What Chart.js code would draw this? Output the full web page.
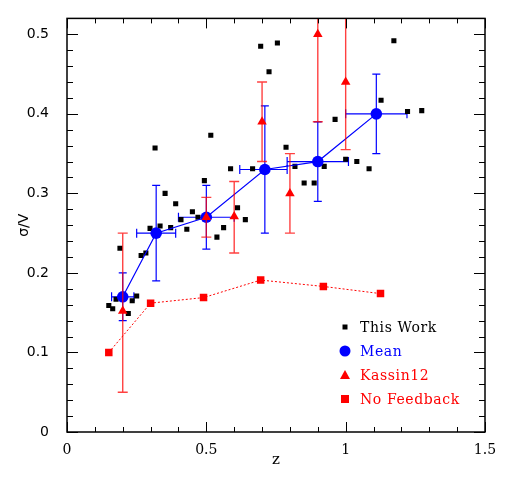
<!DOCTYPE html>
<html>
<head>
<meta charset="utf-8">
<script src="https://cdn.jsdelivr.net/npm/chart.js@4.4.1/dist/chart.umd.min.js"></script>
<style>
  html, body { margin: 0; padding: 0; background: #fff; }
  #wrap { width: 513px; height: 483px; }
</style>
</head>
<body>
<div id="wrap"><canvas id="sigmaChart" width="513" height="483"></canvas></div>
<script>
// This Work (black squares)
const workZ = [0.695, 0.755, 0.725, 0.516, 0.316, 0.587, 0.666, 0.493, 0.352, 0.390, 0.450, 0.470,
  0.409, 0.612, 0.640, 1.173, 1.127, 1.222, 1.273, 0.962, 0.786, 0.818, 0.923, 1.000, 1.040, 1.084,
  0.851, 0.887, 0.298, 0.334, 0.372, 0.430, 0.562, 0.538, 0.190, 0.266, 0.283, 0.250, 0.234, 0.176,
  0.150, 0.164, 0.220];
const workSigma = [0.485, 0.489, 0.453, 0.373, 0.357, 0.331, 0.331, 0.316, 0.300, 0.287, 0.277, 0.270,
  0.267, 0.282, 0.267, 0.492, 0.417, 0.403, 0.404, 0.393, 0.358, 0.334, 0.334, 0.343, 0.340, 0.331,
  0.313, 0.313, 0.256, 0.259, 0.257, 0.255, 0.257, 0.245, 0.231, 0.222, 0.225, 0.171, 0.165, 0.167,
  0.159, 0.155, 0.149];

// Mean (blue circles) with x and y errors
const meanZ = [0.20, 0.32, 0.50, 0.71, 0.90, 1.11];
const meanSigma = [0.170, 0.250, 0.270, 0.330, 0.340, 0.400];
const meanSigmaLo = [0.140, 0.190, 0.230, 0.250, 0.290, 0.350];
const meanSigmaHi = [0.200, 0.310, 0.310, 0.410, 0.390, 0.450];
const meanZLo = [0.16, 0.25, 0.40, 0.62, 0.79, 1.00];
const meanZHi = [0.24, 0.39, 0.60, 0.79, 1.01, 1.22];

// Kassin12 (red triangles) with y errors
const kassinZ = [0.2, 0.5, 0.6, 0.7, 0.8, 0.9, 1.0];
const kassinSigma = [0.152, 0.270, 0.271, 0.390, 0.300, 0.500, 0.440];
const kassinLo = [0.050, 0.245, 0.225, 0.340, 0.250, 0.390, 0.355];
const kassinHi = [0.250, 0.295, 0.315, 0.440, 0.350, 0.620, 0.600];

// No Feedback (red squares, dotted)
const noFbZ = [0.15, 0.30, 0.49, 0.695, 0.92, 1.125];
const noFbSigma = [0.100, 0.162, 0.169, 0.191, 0.183, 0.174];

// tick labels
const xTicks = [0, 0.5, 1, 1.5];
const yTicks = [0, 0.1, 0.2, 0.3, 0.4, 0.5];

const pts = (xs, ys) => xs.map((x, i) => ({ x: x, y: ys[i] }));

const BLUE = '#0000ff';
const RED = '#ff0000';

// blue error bars under the markers, red ones on top (a bit see-through)
const errorBars = {
  id: 'errorBars',
  beforeDatasetsDraw(chart) {
    const { ctx, chartArea, scales: { x, y } } = chart;
    ctx.save();
    ctx.beginPath();
    ctx.rect(chartArea.left, chartArea.top, chartArea.width, chartArea.height);
    ctx.clip();
    ctx.lineWidth = 1.2;
    ctx.strokeStyle = BLUE;
    meanZ.forEach((z, i) => {
      const px = x.getPixelForValue(z), py = y.getPixelForValue(meanSigma[i]);
      const yl = y.getPixelForValue(meanSigmaLo[i]), yh = y.getPixelForValue(meanSigmaHi[i]);
      const xl = x.getPixelForValue(meanZLo[i]), xh = x.getPixelForValue(meanZHi[i]);
      ctx.beginPath();
      ctx.moveTo(px, yl); ctx.lineTo(px, yh);
      ctx.moveTo(px - 4, yl); ctx.lineTo(px + 4, yl);
      ctx.moveTo(px - 4, yh); ctx.lineTo(px + 4, yh);
      ctx.moveTo(xl, py); ctx.lineTo(xh, py);
      ctx.moveTo(xl, py - 4.5); ctx.lineTo(xl, py + 4.5);
      ctx.moveTo(xh, py - 4.5); ctx.lineTo(xh, py + 4.5);
      ctx.stroke();
    });
    ctx.restore();
  },
  afterDatasetsDraw(chart) {
    const { ctx, chartArea, scales: { x, y } } = chart;
    ctx.save();
    ctx.beginPath();
    ctx.rect(chartArea.left, chartArea.top, chartArea.width, chartArea.height);
    ctx.clip();
    ctx.lineWidth = 1.4;
    ctx.strokeStyle = 'rgba(255,0,0,0.75)';
    kassinZ.forEach((z, i) => {
      const px = x.getPixelForValue(z);
      const yl = y.getPixelForValue(kassinLo[i]), yh = y.getPixelForValue(kassinHi[i]);
      ctx.beginPath();
      ctx.moveTo(px, yl); ctx.lineTo(px, yh);
      ctx.moveTo(px - 5, yl); ctx.lineTo(px + 5, yl);
      ctx.moveTo(px - 5, yh); ctx.lineTo(px + 5, yh);
      ctx.stroke();
    });
    ctx.restore();
  }
};

// box with inward ticks on all four sides
const frameTicks = {
  id: 'frameTicks',
  afterDraw(chart) {
    const { ctx, chartArea: a, scales: { x, y } } = chart;
    ctx.save();
    ctx.strokeStyle = '#000';
    ctx.lineWidth = 1.5;
    ctx.strokeRect(a.left, a.top, a.width, a.height);
    ctx.lineWidth = 1;
    ctx.beginPath();
    for (let i = 0; i <= 15; i++) {
      const px = Math.round(x.getPixelForValue(i * 0.1)) + 0.5;
      const len = i % 5 === 0 ? 10 : 5;
      ctx.moveTo(px, a.bottom); ctx.lineTo(px, a.bottom - len);
      ctx.moveTo(px, a.top); ctx.lineTo(px, a.top + len);
    }
    for (let i = 0; i <= 26; i++) {
      const py = Math.round(y.getPixelForValue(i * 0.02)) + 0.5;
      const len = i % 5 === 0 ? 11 : 6;
      ctx.moveTo(a.left, py); ctx.lineTo(a.left + len, py);
      ctx.moveTo(a.right, py); ctx.lineTo(a.right - len, py);
    }
    ctx.stroke();
    ctx.restore();
  }
};

// legend inside the plot, lower right
const innerLegend = {
  id: 'innerLegend',
  afterDraw(chart) {
    const { ctx } = chart;
    const mx = 345, tx = 360, y0 = 327, dy = 24;
    ctx.save();
    ctx.font = '14px "DejaVu Serif"';
    ctx.letterSpacing = '0.6px';
    ctx.textBaseline = 'middle';
    chart.data.datasets.forEach((ds, i) => {
      const yy = y0 + i * dy;
      ctx.fillStyle = ds.legendColor;
      ctx.beginPath();
      if (ds.pointStyle === 'circle') {
        ctx.arc(mx, yy, 5.5, 0, Math.PI * 2);
      } else if (ds.pointStyle === 'triangle') {
        ctx.moveTo(mx, yy - 5); ctx.lineTo(mx + 5, yy + 4); ctx.lineTo(mx - 5, yy + 4); ctx.closePath();
      } else {
        const s = ds.legendSize;
        ctx.rect(mx - s / 2, yy - s / 2, s, s);
      }
      ctx.fill();
      ctx.fillText(ds.label, tx, yy + 1);
    });
    ctx.restore();
  }
};

new Chart(document.getElementById('sigmaChart').getContext('2d'), {
  type: 'scatter',
  data: {
    datasets: [
      {
        label: 'This Work',
        data: pts(workZ, workSigma),
        pointStyle: 'rect',
        pointRadius: 3.6,
        backgroundColor: '#000',
        borderWidth: 0,
        legendColor: '#000',
        legendSize: 5,
        order: 4
      },
      {
        label: 'Mean',
        data: pts(meanZ, meanSigma),
        showLine: true,
        borderColor: BLUE,
        borderWidth: 1.2,
        pointStyle: 'circle',
        pointRadius: 5.8,
        pointBackgroundColor: BLUE,
        pointBorderWidth: 0,
        legendColor: BLUE,
        order: 2
      },
      {
        label: 'Kassin12',
        data: pts(kassinZ, kassinSigma),
        pointStyle: 'triangle',
        pointRadius: 5.5,
        pointBackgroundColor: RED,
        pointBorderWidth: 0,
        legendColor: RED,
        order: 1
      },
      {
        label: 'No Feedback',
        data: pts(noFbZ, noFbSigma),
        showLine: true,
        borderColor: RED,
        borderWidth: 1,
        borderDash: [2, 2],
        pointStyle: 'rect',
        pointRadius: 5.3,
        pointBackgroundColor: RED,
        pointBorderWidth: 0,
        legendColor: RED,
        legendSize: 8,
        order: 3
      }
    ]
  },
  options: {
    responsive: false,
    animation: false,
    layout: { padding: { left: 0, top: 14, right: 28, bottom: 0 } },
    plugins: {
      legend: { display: false },
      tooltip: { enabled: false }
    },
    scales: {
      x: {
        type: 'linear',
        min: 0,
        max: 1.5,
        afterFit: (s) => { s.height = 51; },
        afterBuildTicks: (s) => { s.ticks = xTicks.map(v => ({ value: v })); },
        grid: { display: false },
        border: { display: false },
        ticks: {
          padding: 2,
          color: '#000',
          font: { family: 'DejaVu Serif', size: 14 },
          callback: (v) => String(v)
        },
        title: {
          display: true,
          text: 'z',
          color: '#000',
          font: { family: 'DejaVu Serif', size: 15 },
          padding: { top: 0, bottom: 14 }
        }
      },
      y: {
        type: 'linear',
        min: 0,
        max: 0.52,
        afterFit: (s) => { s.width = 67; },
        afterBuildTicks: (s) => { s.ticks = yTicks.map(v => ({ value: v })); },
        grid: { display: false },
        border: { display: false },
        ticks: {
          padding: 10,
          color: '#000',
          font: { family: 'DejaVu Sans', size: 14 },
          callback: (v) => String(v)
        },
        title: {
          display: true,
          text: 'σ/V',
          color: '#000',
          font: { family: 'DejaVu Sans', size: 14 },
          padding: { top: 16, bottom: 0 }
        }
      }
    }
  },
  plugins: [errorBars, frameTicks, innerLegend]
});
</script>
</body>
</html>
